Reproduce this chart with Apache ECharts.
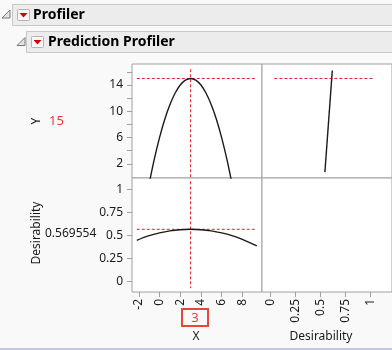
<!DOCTYPE html>
<html><head><meta charset="utf-8">
<script src="https://cdn.jsdelivr.net/npm/echarts@6/dist/echarts.min.js"></script>
<style>html,body{margin:0;padding:0;background:#f9f9f9}#c{width:392px;height:350px}</style>
</head><body><div id="c"></div>
<script>
// ---- data ----
const profX = [-1, -0.5, 0, 0.5, 1, 1.5, 2, 2.5, 3, 3.5, 4, 4.5, 5, 5.5, 6, 6.5, 7];
const profY = [-1, 2.75, 6, 8.75, 11, 12.75, 14, 14.75, 15, 14.75, 14, 12.75, 11, 8.75, 6, 2.75, -1];
const desX = [-2.2, -1, 0, 1, 2, 3, 4, 5, 6, 7, 8, 9.4];
const desD = [0.45, 0.50, 0.53, 0.552, 0.565, 0.5696, 0.565, 0.552, 0.53, 0.50, 0.46, 0.39];
const desFnD = [0.544, 0.618];
const desFnY = [0.75, 16.2];
const currentX = 3;
const currentY = 15;
const currentD = 0.569554;
const xTicks = [-2, 0, 2, 4, 6, 8];
const yTicks = [2, 4, 6, 8, 10, 12, 14, 16];
const yLabels = [2, 6, 10, 14];
const dTicks = [0, 0.25, 0.5, 0.75, 1];
const xRange = [-2.66, 9.9];
const yRange = [-0.15, 17.2];
const dRange = [-0.112, 1.127];
const dxRange = [-0.084, 1.214];
const hLineXSpan = [-2.2, 9.2];
const hLineDSpan = [0.04, 1.02];
const vLineYSpan = [16.4, -0.2];
const vLineDSpan = [1.09, -0.07];

const FONT = '"Noto Sans", "Open Sans", sans-serif';
const RED = '#e0202c';
const GRAY = '#a0a0a0';
const chart = echarts.init(document.getElementById('c'), null, {renderer: 'canvas'});

const gridBase = {show: true, backgroundColor: '#ffffff', borderColor: GRAY, borderWidth: 1, containLabel: false};
const grids = [
  Object.assign({left: 132, top: 64, width: 130, height: 114}, gridBase),
  Object.assign({left: 262, top: 64, width: 135, height: 114}, gridBase),
  Object.assign({left: 132, top: 178, width: 130, height: 114}, gridBase),
  Object.assign({left: 262, top: 178, width: 135, height: 114}, gridBase)
];

function hiddenAxis(gi, range) {
  return {gridIndex: gi, type: 'value', min: range[0], max: range[1],
    axisLine: {show: false, onZero: false}, axisTick: {show: false}, axisLabel: {show: false}, splitLine: {show: false}};
}
function shownAxis(gi, range, ticks, labels, rotate) {
  return {gridIndex: gi, type: 'value', min: range[0], max: range[1],
    axisLine: {show: false, onZero: false}, splitLine: {show: false},
    axisTick: {show: true, inside: false, length: 5, customValues: ticks, lineStyle: {color: GRAY, width: 1}},
    axisLabel: {show: true, customValues: labels, rotate: rotate || 0, margin: rotate ? 7 : 9,
      color: '#1a1a1a', fontFamily: FONT, fontSize: 12, showMinLabel: true, showMaxLabel: true}};
}

const xAxes = [
  hiddenAxis(0, xRange),
  hiddenAxis(1, dxRange),
  shownAxis(2, xRange, xTicks, xTicks, 90),
  shownAxis(3, dxRange, dTicks, dTicks, 90)
];
const yAxes = [
  shownAxis(0, yRange, yTicks, yLabels),
  hiddenAxis(1, yRange),
  shownAxis(2, dRange, dTicks, dTicks),
  hiddenAxis(3, dRange)
];

function curve(xi, xs, ys, smooth) {
  return {type: 'line', xAxisIndex: xi, yAxisIndex: xi, data: xs.map((x, i) => [x, ys[i]]),
    smooth: smooth, showSymbol: false, symbol: 'none', clip: true, silent: true,
    lineStyle: {color: '#1a1a1a', width: 1.4}, z: 3};
}
function dashed(xi, pts) {
  return {type: 'line', xAxisIndex: xi, yAxisIndex: xi, data: pts, showSymbol: false, symbol: 'none',
    clip: true, silent: true, lineStyle: {color: RED, width: 1, type: [3, 2]}, z: 2};
}

const series = [
  curve(0, profX, profY, 0.3),
  dashed(0, [[hLineXSpan[0], currentY], [hLineXSpan[1], currentY]]),
  dashed(0, [[currentX, vLineYSpan[0]], [currentX, vLineYSpan[1]]]),
  curve(1, desFnD, desFnY, false),
  dashed(1, [[hLineDSpan[0], currentY], [hLineDSpan[1], currentY]]),
  curve(2, desX, desD, 0.35),
  dashed(2, [[hLineXSpan[0], currentD], [hLineXSpan[1], currentD]]),
  dashed(2, [[currentX, vLineDSpan[0]], [currentX, vLineDSpan[1]]])
];

function disclosure(x, y) {
  return {type: 'polygon', shape: {points: [[x + 8, y], [x + 8, y + 8], [x, y + 8]]},
    style: {fill: '#e4e4e4', stroke: '#7a7a7a', lineWidth: 1}};
}
function redButton(x, y) {
  return {type: 'group', children: [
    {type: 'rect', shape: {x: x + 0.5, y: y + 0.5, width: 12, height: 11, r: 1},
      style: {fill: '#f7f7f7', stroke: '#b4b4b4', lineWidth: 1}},
    {type: 'polygon', shape: {points: [[x + 2.5, y + 4], [x + 10.5, y + 4], [x + 6.5, y + 8.5]]},
      style: {fill: '#d40000'}}
  ]};
}

const graphic = [
  {type: 'rect', shape: {x: 12.5, y: 4.5, width: 390, height: 21}, style: {fill: '#ececec', stroke: '#c8c8c8', lineWidth: 1}},
  disclosure(2, 10),
  redButton(17, 9),
  {type: 'text', style: {text: 'Profiler', x: 33, y: 15, font: 'bold 14px ' + FONT, fill: '#000', verticalAlign: 'middle'}},
  {type: 'rect', shape: {x: 26.5, y: 31.5, width: 380, height: 21}, style: {fill: '#ececec', stroke: '#c8c8c8', lineWidth: 1}},
  disclosure(17, 37.5),
  redButton(31, 36),
  {type: 'text', style: {text: 'Prediction Profiler', x: 48, y: 42, font: 'bold 14px ' + FONT, fill: '#000', verticalAlign: 'middle'}},
  {type: 'text', x: 37, y: 121, rotation: Math.PI / 2, style: {text: 'Y', x: 0, y: 0, font: '12px ' + FONT, fill: '#1a1a1a', align: 'center', verticalAlign: 'middle'}},
  {type: 'text', style: {text: String(currentY), x: 49, y: 121, font: '13px ' + FONT, fill: '#ee3b3b', verticalAlign: 'middle'}},
  {type: 'text', x: 37, y: 233, rotation: Math.PI / 2, style: {text: 'Desirability', x: 0, y: 0, font: '12px ' + FONT, fill: '#1a1a1a', align: 'center', verticalAlign: 'middle'}},
  {type: 'text', style: {text: String(currentD), x: 45, y: 234, font: '12px ' + FONT, fill: '#1a1a1a', verticalAlign: 'middle'}},
  {type: 'rect', shape: {x: 182, y: 309, width: 26, height: 17}, style: {fill: '#f9f9f9', stroke: '#e8463c', lineWidth: 2}},
  {type: 'text', style: {text: String(currentX), x: 195, y: 318, font: '13px ' + FONT, fill: '#ee3b3b', align: 'center', verticalAlign: 'middle'}},
  {type: 'text', style: {text: 'X', x: 196, y: 337, font: '12px ' + FONT, fill: '#1a1a1a', align: 'center', verticalAlign: 'middle'}},
  {type: 'text', style: {text: 'Desirability', x: 321, y: 337, font: '12px ' + FONT, fill: '#1a1a1a', align: 'center', verticalAlign: 'middle'}},
  {type: 'rect', shape: {x: 0, y: 348, width: 392, height: 2}, style: {fill: '#c3c8e6'}}
];

chart.setOption({
  backgroundColor: '#f9f9f9',
  animation: false,
  grid: grids,
  xAxis: xAxes,
  yAxis: yAxes,
  series: series,
  graphic: graphic
});
</script></body></html>
